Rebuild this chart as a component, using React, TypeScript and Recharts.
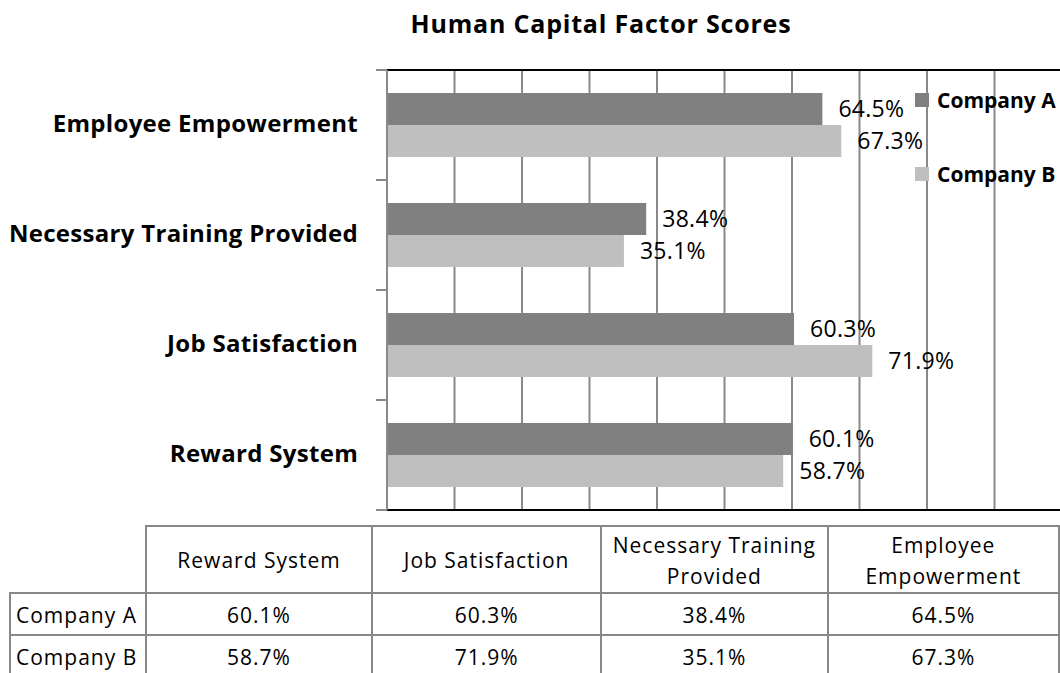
import React from "react";
import {
  BarChart,
  Bar,
  XAxis,
  YAxis,
  CartesianGrid,
  Legend,
  LabelList,
} from "recharts";

// categories in table order (Excel draws the first one at the bottom)
const categories = [
  "Reward System",
  "Job Satisfaction",
  "Necessary Training Provided",
  "Employee Empowerment",
];
const companyA = [60.1, 60.3, 38.4, 64.5];
const companyB = [58.7, 71.9, 35.1, 67.3];
const seriesNames = ["Company A", "Company B"];
const pctTicks = [0, 10, 20, 30, 40, 50, 60, 70, 80, 90, 100];

const data = categories.map((name, i) => ({
  name,
  a: companyA[i],
  b: companyB[i],
}));

const FONT = "'Open Sans', 'Noto Sans', sans-serif";
const PLOT_LEFT = 387;
const HALF_BAND = 55;
const GRID = "#898989";

const fmt = (v: number) => v.toFixed(1) + "%";

function CategoryTick(props: any) {
  const { x, y, payload } = props;
  return (
    <g>
      <line x1={PLOT_LEFT - 11} x2={PLOT_LEFT} y1={y - HALF_BAND} y2={y - HALF_BAND} stroke={GRID} strokeWidth={2} />
      <line x1={PLOT_LEFT - 11} x2={PLOT_LEFT} y1={y + HALF_BAND} y2={y + HALF_BAND} stroke={GRID} strokeWidth={2} />
      <text
        x={x}
        y={y}
        dy="0.3em"
        textAnchor="end"
        fontFamily={FONT}
        fontWeight="bold"
        fontSize={24}
        letterSpacing={0.3}
        fill="#000"
      >
        {payload.value}
      </text>
    </g>
  );
}

const noTick = () => <g />;

// vertical gridlines at every 10%, placed through the x scale when it is exposed
const gridX = (props: any) => {
  const sc = props?.xAxis?.scale;
  if (typeof sc === "function") return pctTicks.map((t) => sc(t));
  if (sc && typeof sc.map === "function") return pctTicks.map((t) => sc.map(t));
  const off = props.offset;
  return pctTicks.map((t) => off.left + (t / 100) * off.width);
};

function renderLegend(props: any) {
  const { payload } = props;
  return (
    <div style={{ position: "relative", width: 160, height: 110 }}>
      {payload.map((entry: any, i: number) => (
        <div
          key={entry.value}
          style={{
            position: "absolute",
            left: 0,
            top: i * 74,
            display: "flex",
            alignItems: "center",
          }}
        >
          <span style={{ width: 14, height: 14, background: entry.color, marginRight: 8 }} />
          <span style={{ fontFamily: FONT, fontWeight: "bold", fontSize: 21, color: "#000", whiteSpace: "nowrap" }}>
            {entry.value}
          </span>
        </div>
      ))}
    </div>
  );
}

const border = "2px solid #888";

export default function App() {
  return (
    <div
      style={{
        position: "absolute",
        left: 0,
        top: 0,
        width: 1060,
        height: 673,
        overflow: "hidden",
        background: "#fff",
      }}
    >
      <div
        style={{
          position: "absolute",
          left: 401,
          top: 11,
          width: 400,
          textAlign: "center",
          fontFamily: FONT,
          fontWeight: "bold",
          fontSize: 25,
          lineHeight: "25px",
          letterSpacing: 0.8,
          whiteSpace: "nowrap",
        }}
      >
        Human Capital Factor Scores
      </div>

      <div style={{ position: "absolute", left: 0, top: 0 }}>
        <BarChart
          width={1062}
          height={520}
          data={data}
          layout="vertical"
          margin={{ top: 69, right: 0, bottom: 9, left: 0 }}
          barSize={32}
          barGap={0}
        >
          <CartesianGrid
            horizontal={false}
            vertical
            stroke={GRID}
            strokeWidth={2}
            verticalCoordinatesGenerator={gridX}
          />
          <XAxis
            type="number"
            domain={[0, 100]}
            ticks={pctTicks}
            tick={noTick}
            tickLine={false}
            height={1}
            axisLine={{ stroke: "#000", strokeWidth: 2 }}
          />
          <XAxis
            xAxisId="top"
            orientation="top"
            type="number"
            domain={[0, 100]}
            ticks={pctTicks}
            tick={noTick}
            tickLine={false}
            height={1}
            axisLine={{ stroke: "#000", strokeWidth: 2 }}
          />
          <YAxis
            type="category"
            dataKey="name"
            reversed
            width={387}
            tickLine={false}
            tickSize={0}
            tickMargin={29}
            interval={0}
            axisLine={{ stroke: GRID, strokeWidth: 2 }}
            tick={<CategoryTick />}
          />
          <Legend
            layout="vertical"
            align="center"
            verticalAlign="middle"
            content={renderLegend}
            wrapperStyle={{ left: 915, top: 86, width: 160 }}
          />
          <Bar dataKey="a" name={seriesNames[0]} fill="#808080" isAnimationActive={false}>
            <LabelList
              dataKey="a"
              position="right"
              offset={16}
              formatter={(v: any) => fmt(Number(v))}
              style={{ fontFamily: FONT, fontSize: 23, fill: "#000", letterSpacing: 0.3 }}
            />
          </Bar>
          <Bar dataKey="b" name={seriesNames[1]} fill="#BFBFBF" isAnimationActive={false}>
            <LabelList
              dataKey="b"
              position="right"
              offset={16}
              formatter={(v: any) => fmt(Number(v))}
              style={{ fontFamily: FONT, fontSize: 23, fill: "#000", letterSpacing: 0.3 }}
            />
          </Bar>
        </BarChart>
      </div>

      <table
        style={{
          position: "absolute",
          left: 9,
          top: 525,
          borderCollapse: "collapse",
          tableLayout: "fixed",
          fontFamily: FONT,
          fontSize: 21,
          letterSpacing: 1,
          color: "#000",
        }}
      >
        <colgroup>
          <col style={{ width: 136 }} />
          <col style={{ width: 228 }} />
          <col style={{ width: 230 }} />
          <col style={{ width: 228 }} />
          <col style={{ width: 232 }} />
        </colgroup>
        <tbody>
          <tr style={{ height: 67 }}>
            <td style={{ borderBottom: border, padding: 0 }} />
            {categories.map((c) => (
              <td
                key={c}
                style={{
                  border,
                  textAlign: "center",
                  padding: "2px 10px 0",
                  lineHeight: "31px",
                }}
              >
                {c}
              </td>
            ))}
          </tr>
          {seriesNames.map((s, r) => (
            <tr key={s} style={{ height: 42 }}>
              <td style={{ border, padding: "2px 0 0 5px", whiteSpace: "nowrap", lineHeight: "28px" }}>{s}</td>
              {(r === 0 ? companyA : companyB).map((v, i) => (
                <td key={i} style={{ border, textAlign: "center", padding: "2px 0 0", lineHeight: "28px" }}>
                  {fmt(v)}
                </td>
              ))}
            </tr>
          ))}
        </tbody>
      </table>
    </div>
  );
}
